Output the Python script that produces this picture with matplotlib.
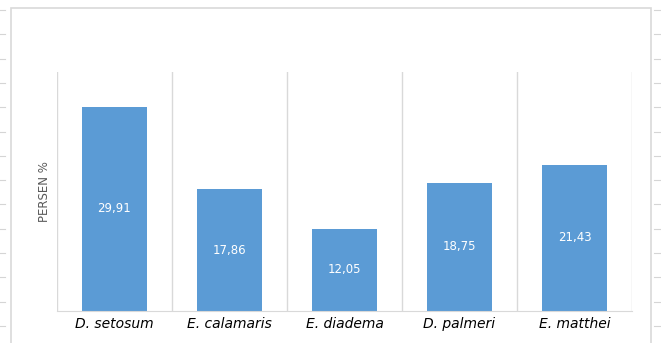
import numpy as np
import matplotlib.pyplot as plt
from matplotlib.lines import Line2D
from matplotlib.patches import Rectangle

# data
species = ['D. setosum', 'E. calamaris', 'E. diadema', 'D. palmeri', 'E. matthei']
persen = [29.91, 17.86, 12.05, 18.75, 21.43]

W, H = 661, 343
fig = plt.figure(figsize=(W / 100, H / 100), dpi=100)
fig.patch.set_facecolor('white')

# outer chart frame (sheet gridlines around)
fig.patches.append(Rectangle((11 / W, -0.01), (651 - 11) / W, (H - 8) / H + 0.01,
                             transform=fig.transFigure, fill=False,
                             edgecolor='#d9d9d9', linewidth=1.2))
for y in np.arange(10, 343, 24.3):
    fig.add_artist(Line2D([0, 5 / W], [1 - y / H, 1 - y / H], color='#d5d5d5', lw=0.8))
    fig.add_artist(Line2D([654 / W, 1], [1 - y / H, 1 - y / H], color='#d5d5d5', lw=0.8))

ax = fig.add_axes([57 / W, 32 / H, (632 - 57) / W, (311 - 72) / H])
x = np.arange(len(species))
bars = ax.bar(x, persen, width=0.565, color='#5b9bd5', zorder=2)

for b, v in zip(bars, persen):
    ax.text(b.get_x() + b.get_width() / 2, v / 2, f'{v:.2f}'.replace('.', ','),
            ha='center', va='center', color='white', fontsize=8.5)

# category separators
for xs in np.arange(-0.5, len(species), 1):
    ax.axvline(xs, color='#d9d9d9', lw=1, zorder=1)

ax.set_xlim(-0.5, len(species) - 0.5)
ax.set_ylim(0, 35)
ax.set_yticks([])
ax.set_xticks(x)
ax.set_xticklabels(species, fontsize=10, style='italic', color='black')
ax.tick_params(axis='x', length=0, pad=4)
for s in ['top', 'right', 'left']:
    ax.spines[s].set_visible(False)
ax.spines['bottom'].set_color('#d9d9d9')
ax.set_ylabel('PERSEN %', fontsize=8.5, color='#595959', labelpad=4)

plt.savefig('out.png', dpi=100)
